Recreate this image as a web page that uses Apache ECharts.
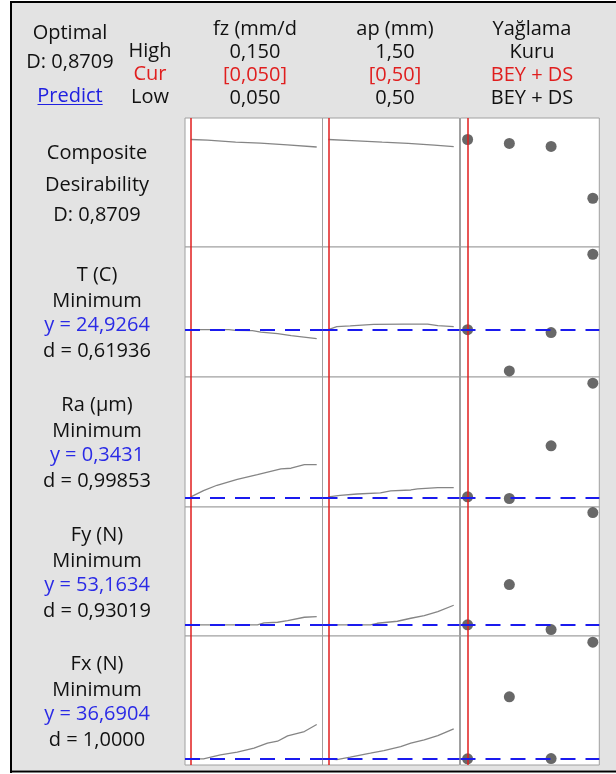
<!DOCTYPE html>
<html><head><meta charset="utf-8">
<script src="https://cdn.jsdelivr.net/npm/echarts@6/dist/echarts.min.js"></script>
<style>html,body{margin:0;padding:0;background:#fff}#c{width:616px;height:774px}</style>
</head><body><div id="c"></div>
<script>
// ---- factor settings ----
const factorNames = ["fz (mm/d", "ap (mm)", "Yağlama"];
const highLabels = ["0,150", "1,50", "Kuru"];
const curLabels = ["[0,050]", "[0,50]", "BEY + DS"];
const lowLabels = ["0,050", "0,50", "BEY + DS"];
const fzRange = [0.05, 0.15];
const apRange = [0.5, 1.5];
const lubLevels = ["BEY + DS", "Seviye 2", "Seviye 3", "Kuru"];
const fzOpt = 0.05, apOpt = 0.5, lubOpt = 0;

// ---- responses ----
const respNames = ["T (C)", "Ra (µm)", "Fy (N)", "Fx (N)"];
const respGoals = ["Minimum", "Minimum", "Minimum", "Minimum"];
const respY = ["y = 24,9264", "y = 0,3431", "y = 53,1634", "y = 36,6904"];
const respD = ["d = 0,61936", "d = 0,99853", "d = 0,93019", "d = 1,0000"];
const optValues = [null, 24.9264, 0.3431, 53.1634, 36.6904];
const yRanges = [[0, 1.045], [18.6, 36], [0.30, 0.85], [44, 150], [32, 130]];

// Composite desirability
const dFz = [[0.05,0.8709],[0.0633,0.866],[0.0856,0.850],[0.1052,0.842],[0.1266,0.828],[0.15,0.810]];
const dAp = [[0.5,0.8709],[0.688,0.862],[0.93,0.849],[1.136,0.839],[1.345,0.826],[1.5,0.813]];
const dLub = [0.8709, 0.839, 0.815, 0.395];
// T (C)
const tFz = [[0.05,24.93],[0.0802,24.93],[0.0856,24.85],[0.099,24.8],[0.1056,24.62],[0.119,24.4],[0.1297,24.13],[0.15,23.73]];
const tAp = [[0.5,24.93],[0.568,25.33],[0.675,25.43],[0.862,25.65],[1.104,25.69],[1.292,25.69],[1.373,25.47],[1.5,25.33]];
const tLub = [24.93, 19.41, 24.55, 35.03];
// Ra (µm)
const raFz = [[0.05,0.3431],[0.0601,0.369],[0.0708,0.392],[0.0869,0.417],[0.1029,0.437],[0.1216,0.461],[0.1296,0.464],[0.1402,0.479],[0.15,0.479]];
const raAp = [[0.5,0.3431],[0.594,0.349],[0.729,0.355],[0.916,0.360],[0.997,0.368],[1.158,0.372],[1.212,0.377],[1.373,0.382],[1.5,0.382]];
const raLub = [0.3431, 0.336, 0.559, 0.824];
// Fy (N)
const fyFz = [[0.05,53.16],[0.1029,53.16],[0.1082,54.8],[0.1189,55.3],[0.1269,56.7],[0.1402,59.4],[0.15,60.0]];
const fyAp = [[0.5,53.16],[0.836,53.16],[0.890,54.47],[1.051,56.12],[1.158,58.58],[1.265,60.8],[1.373,64.09],[1.5,69.26]];
const fyLub = [53.16, 86.3, 49.3, 145.4];
// Fx (N)
const fxFz = [[0.05,36.69],[0.0601,36.69],[0.0735,39.73],[0.0869,41.7],[0.1002,44.74],[0.1109,48.54],[0.1189,50.06],[0.1269,54.16],[0.1402,57.43],[0.15,62.75]];
const fxAp = [[0.5,36.69],[0.568,36.16],[0.675,37.9],[0.836,40.94],[0.943,43.0],[1.077,46.03],[1.158,48.54],[1.265,51.12],[1.373,54.39],[1.5,59.48]];
const fxLub = [36.69, 83.79, 36.9, 125.27];

const curves = [[dFz,dAp,dLub],[tFz,tAp,tLub],[raFz,raAp,raLub],[fyFz,fyAp,fyLub],[fxFz,fxAp,fxLub]];

// ---- layout ----
const rowTops = [118, 247, 377, 507, 636, 765];
const colL = [185, 322.5, 460.5];
const colR = [322.5, 459.5, 599.3];
const xRanges = [[0.0454,0.1546],[0.454,1.546],[-0.17,3.155]];
const optX = [fzOpt, apOpt, lubOpt];

const FONT = '"Open Sans", "Noto Sans", sans-serif';
const FS = 20;
const RED = '#e01e1e', BLUE = '#2a2ae6', BLK = '#111';

const grids = [], xAxes = [], yAxes = [], series = [];
for (let r = 0; r < 5; r++) {
  for (let c = 0; c < 3; c++) {
    const i = grids.length;
    grids.push({left: colL[c], top: rowTops[r], width: colR[c]-colL[c], height: rowTops[r+1]-rowTops[r],
      show: true, backgroundColor: '#fff', borderColor: '#a0a0a0', borderWidth: 1, containLabel: false});
    xAxes.push({type: 'value', gridIndex: i, min: xRanges[c][0], max: xRanges[c][1], show: false, splitLine:{show:false}});
    yAxes.push({type: 'value', gridIndex: i, min: yRanges[r][0], max: yRanges[r][1], show: false, splitLine:{show:false}});
    const ml = [{xAxis: optX[c], lineStyle: {color: RED, width: 1.5, type: 'solid'}}];
    if (optValues[r] !== null) ml.push({yAxis: optValues[r], lineStyle: {color: '#1a1aee', width: 2, type: [15, 10]}});
    const markLine = {silent: true, symbol: ['none','none'], label: {show: false}, animation: false, data: ml, z: 5};
    if (c < 2) {
      series.push({type: 'line', xAxisIndex: i, yAxisIndex: i, data: curves[r][c], showSymbol: false, symbol: 'none',
        lineStyle: {color: '#858585', width: 1.3}, animation: false, markLine: markLine, z: 3});
    } else {
      series.push({type: 'scatter', xAxisIndex: i, yAxisIndex: i,
        data: curves[r][c].map((v, k) => [k, v]), symbolSize: 11,
        itemStyle: {color: '#424242'}, animation: false, markLine: markLine, z: 3});
    }
  }
}

function txt(s, x, y, fill, extra) {
  return Object.assign({type: 'text', z: 10, style: {text: s, x: x, y: y, textAlign: 'center', textVerticalAlign: 'middle',
    font: FS + 'px ' + FONT, fill: fill || BLK}}, extra || {});
}
const dy = 2;
const g = [];
// frame
g.push({type: 'rect', z: -5, shape: {x: 0, y: 0, width: 616, height: 774}, style: {fill: '#fff'}});
g.push({type: 'rect', z: -4, shape: {x: 12, y: 3, width: 604, height: 767}, style: {fill: '#e3e3e3'}});
g.push({type: 'rect', z: -3, shape: {x: 10, y: 1, width: 606, height: 2}, style: {fill: '#000'}});
g.push({type: 'rect', z: -3, shape: {x: 10, y: 1, width: 2, height: 772}, style: {fill: '#000'}});
g.push({type: 'rect', z: -3, shape: {x: 10, y: 770.5, width: 606, height: 2}, style: {fill: '#000'}});
// header
g.push(txt('Optimal', 70, 31.5 + dy));
g.push(txt('D: 0,8709', 70, 60 + dy));
g.push(txt('Predict', 70, 94.5 + dy, '#2020e0'));
g.push({type: 'line', z: 10, shape: {x1: 37.5, y1: 104.5, x2: 102.7, y2: 104.5}, style: {stroke: '#2020e0', lineWidth: 1}});
g.push(txt('High', 150, 49 + dy));
g.push(txt('Cur', 150, 72 + dy, RED));
g.push(txt('Low', 150, 95.5 + dy));
const hdrX = [255, 395, 532];
for (let c = 0; c < 3; c++) {
  g.push(txt(factorNames[c], hdrX[c], 27 + dy));
  g.push(txt(highLabels[c], hdrX[c], 50 + dy));
  g.push(txt(curLabels[c], hdrX[c], 73 + dy, RED));
  g.push(txt(lowLabels[c], hdrX[c], 96 + dy));
}
// left labels
g.push(txt('Composite', 97, 151 + dy));
g.push(txt('Desirability', 97, 183 + dy));
g.push(txt('D: 0,8709', 97, 213 + dy));
for (let k = 0; k < 4; k++) {
  const t = rowTops[k+1];
  g.push(txt(respNames[k], 97, t + 26 + dy));
  g.push(txt(respGoals[k], 97, t + 52 + dy));
  g.push(txt(respY[k], 97, t + 76 + dy, BLUE));
  g.push(txt(respD[k], 97, t + 102 + dy));
}

const chart = echarts.init(document.getElementById('c'), null, {renderer: 'canvas'});
chart.setOption({animation: false, backgroundColor: '#fff', grid: grids, xAxis: xAxes, yAxis: yAxes, series: series, graphic: g});
</script></body></html>
